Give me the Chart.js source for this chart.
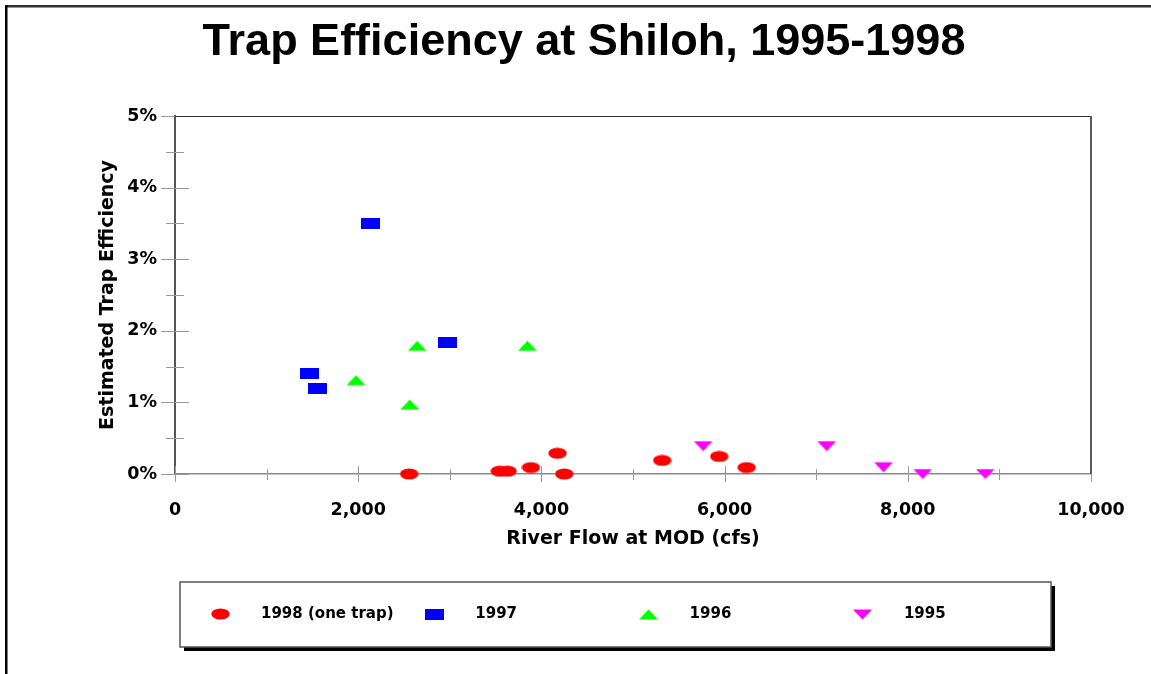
<!DOCTYPE html>
<html>
<head>
<meta charset="utf-8">
<script src="https://cdn.jsdelivr.net/npm/chart.js@4.4.1/dist/chart.umd.min.js"></script>
<style>
  html, body { margin: 0; padding: 0; background: #fff; }
  #wrap { width: 1151px; height: 674px; position: relative; }
</style>
</head>
<body>
<div id="wrap"><canvas id="chart" width="1151" height="674"></canvas></div>
<script>
const CHART_TITLE = "Trap Efficiency at Shiloh, 1995-1998";
const X_TITLE = "River Flow at MOD (cfs)";
const Y_TITLE = "Estimated Trap Efficiency";
const SERIES_LABELS = ["1998 (one trap)", "1997", "1996", "1995"];

// river flow (cfs) and estimated trap efficiency (%) per year
const FLOW_1998 = [2557, 3546, 3630, 3886, 4176, 4250, 5319, 5941, 6241];
const EFF_1998 = [0.0, 0.04, 0.04, 0.09, 0.29, 0.0, 0.19, 0.245, 0.09];
const FLOW_1997 = [1470, 1558, 2129, 2973];
const EFF_1997 = [1.40, 1.20, 3.50, 1.84];
const FLOW_1996 = [1976, 2563, 2644, 3848];
const EFF_1996 = [1.31, 0.97, 1.79, 1.79];
const FLOW_1995 = [5766, 7115, 7735, 8163, 8846];
const EFF_1995 = [0.39, 0.39, 0.095, 0.0, 0.0];

const X_TICKS = [0, 2000, 4000, 6000, 8000, 10000];
const Y_TICKS = [0, 1, 2, 3, 4, 5];

const AXIS_FONT = "DejaVu Sans";

function marker(kind, color) {
  const c = document.createElement("canvas");
  c.width = 19;
  c.height = kind === "ellipse" ? 12 : 11;
  const g = c.getContext("2d");
  g.fillStyle = color;
  g.beginPath();
  if (kind === "ellipse") {
    g.ellipse(9.5, 6, 9.2, 5.6, 0, 0, Math.PI * 2);
  } else if (kind === "rect") {
    g.rect(0, 0, 19, 11);
  } else if (kind === "up") {
    g.moveTo(0, 10.5); g.lineTo(9.5, 0.5); g.lineTo(19, 10.5);
  } else {
    g.moveTo(0, 0.5); g.lineTo(19, 0.5); g.lineTo(9.5, 10.5);
  }
  g.closePath();
  g.fill();
  return c;
}

const MARKERS = [
  marker("ellipse", "#ff0000"),
  marker("rect", "#0000ff"),
  marker("up", "#00ff00"),
  marker("down", "#ff00ff")
];

function pairs(xs, ys) {
  return xs.map((x, i) => ({ x, y: ys[i] }));
}

const framePlugin = {
  id: "frame",
  beforeDraw(chart) {
    const { ctx } = chart;
    ctx.save();
    ctx.fillStyle = "#fff";
    ctx.fillRect(0, 0, chart.width, chart.height);
    // outer frame, top and left only
    ctx.fillStyle = "#333";
    ctx.fillRect(5, 5, chart.width - 5, 2.5);
    ctx.fillStyle = "#000";
    ctx.fillRect(5, 5, 2.5, chart.height - 5);
    ctx.restore();
  },
  beforeDatasetsDraw(chart) {
    const { ctx, chartArea: a, scales: { x, y } } = chart;
    ctx.save();
    ctx.strokeStyle = "#9a9a9a";
    ctx.lineWidth = 1;
    // y ticks, crossing the axis
    Y_TICKS.forEach((v, i) => {
      const py = Math.round(y.getPixelForValue(v)) + 0.5;
      ctx.beginPath(); ctx.moveTo(a.left - 14, py); ctx.lineTo(a.left + 14, py); ctx.stroke();
      if (i < Y_TICKS.length - 1) {
        const my = Math.round(y.getPixelForValue((v + Y_TICKS[i + 1]) / 2)) + 0.5;
        ctx.beginPath(); ctx.moveTo(a.left - 9, my); ctx.lineTo(a.left + 9, my); ctx.stroke();
      }
    });
    // x ticks
    X_TICKS.forEach((v, i) => {
      const px = Math.round(x.getPixelForValue(v)) + 0.5;
      ctx.beginPath(); ctx.moveTo(px, a.bottom - 8); ctx.lineTo(px, a.bottom + 8); ctx.stroke();
      if (i < X_TICKS.length - 1) {
        const mx = Math.round(x.getPixelForValue((v + X_TICKS[i + 1]) / 2)) + 0.5;
        ctx.beginPath(); ctx.moveTo(mx, a.bottom - 5); ctx.lineTo(mx, a.bottom + 6); ctx.stroke();
      }
    });
    // top and right of the plot box
    ctx.strokeStyle = "#333";
    ctx.beginPath(); ctx.moveTo(a.left, a.top + 0.5); ctx.lineTo(a.right, a.top + 0.5); ctx.stroke();
    ctx.strokeStyle = "#5a5a5a";
    ctx.lineWidth = 2;
    ctx.beginPath(); ctx.moveTo(a.right, a.top); ctx.lineTo(a.right, a.bottom); ctx.stroke();
    ctx.restore();
  },
  afterDraw(chart) {
    const { ctx } = chart;
    ctx.save();
    // title
    ctx.fillStyle = "#000";
    ctx.font = "bold 45px 'Liberation Sans', Arial, sans-serif";
    ctx.textAlign = "center";
    ctx.textBaseline = "middle";
    ctx.fillText(CHART_TITLE, 584, 43);
    // legend box with drop shadow
    const lx = 180, ly = 582, lw = 871, lh = 65;
    ctx.fillStyle = "#000";
    ctx.fillRect(lx + 4, ly + 4, lw, lh);
    ctx.fillStyle = "#fff";
    ctx.fillRect(lx, ly, lw, lh);
    ctx.strokeStyle = "#555";
    ctx.lineWidth = 1.5;
    ctx.strokeRect(lx, ly, lw, lh);
    ctx.font = "bold 15px '" + AXIS_FONT + "', sans-serif";
    ctx.textAlign = "left";
    ctx.fillStyle = "#000";
    chart.data.datasets.forEach((ds, i) => {
      const cx = 220 + i * 214.3, cy = 614;
      const img = ds.pointStyle;
      ctx.drawImage(img, Math.round(cx - img.width / 2), Math.round(cy - img.height / 2));
      ctx.fillText(ds.label, cx + 41, cy);
    });
    ctx.restore();
  }
};

const datasets = [
  { label: SERIES_LABELS[0], data: pairs(FLOW_1998, EFF_1998), pointStyle: MARKERS[0] },
  { label: SERIES_LABELS[1], data: pairs(FLOW_1997, EFF_1997), pointStyle: MARKERS[1] },
  { label: SERIES_LABELS[2], data: pairs(FLOW_1996, EFF_1996), pointStyle: MARKERS[2] },
  { label: SERIES_LABELS[3], data: pairs(FLOW_1995, EFF_1995), pointStyle: MARKERS[3] }
].map((d) => ({ ...d, clip: false, pointRadius: 10, showLine: false }));

new Chart(document.getElementById("chart"), {
  type: "scatter",
  data: { datasets },
  plugins: [framePlugin],
  options: {
    responsive: false,
    animation: false,
    devicePixelRatio: 1,
    layout: { padding: { left: 0, top: 116, right: 60, bottom: 110 } },
    plugins: {
      legend: { display: false },
      title: { display: false },
      tooltip: { enabled: false }
    },
    scales: {
      x: {
        type: "linear",
        min: 0,
        max: 10000,
        afterFit: (s) => { s.height = 90; },
        afterBuildTicks: (s) => { s.ticks = X_TICKS.map((v) => ({ value: v })); },
        grid: { display: false, drawTicks: false },
        border: { display: true, color: "#8a8a8a", width: 1.5 },
        ticks: {
          padding: 26,
          maxRotation: 0,
          color: "#000",
          font: { family: AXIS_FONT, size: 17.5, weight: "bold" },
          callback: (v) => Number(v).toLocaleString("en-US")
        },
        title: {
          display: true,
          text: X_TITLE,
          color: "#000",
          font: { family: AXIS_FONT, size: 19, weight: "bold" },
          padding: { top: 0, bottom: 13.6 }
        }
      },
      y: {
        type: "linear",
        min: 0,
        max: 5,
        afterFit: (s) => { s.width = 175; },
        afterBuildTicks: (s) => { s.ticks = Y_TICKS.map((v) => ({ value: v })); },
        grid: { display: false, drawTicks: false },
        border: { display: true, color: "#555", width: 2 },
        ticks: {
          padding: 18,
          color: "#000",
          font: { family: AXIS_FONT, size: 17.5, weight: "bold" },
          callback: (v) => v + "%"
        },
        title: {
          display: true,
          text: Y_TITLE,
          color: "#000",
          font: { family: AXIS_FONT, size: 19, weight: "bold" },
          padding: { top: 96.6, bottom: 0 }
        }
      }
    }
  }
});
</script>
</body>
</html>
